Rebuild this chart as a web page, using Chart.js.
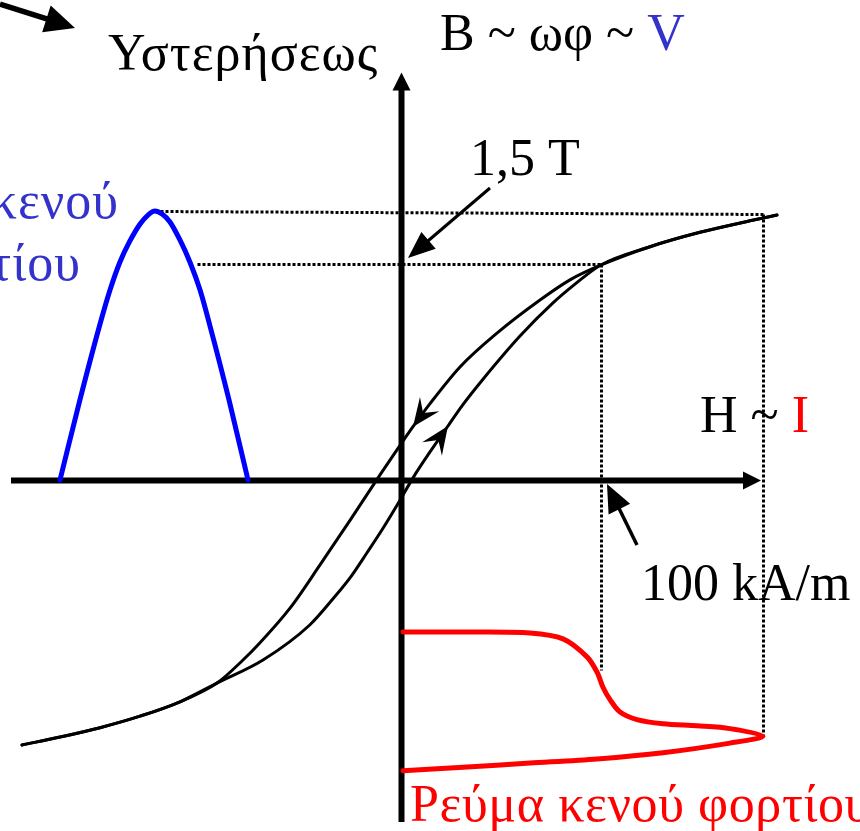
<!DOCTYPE html>
<html>
<head>
<meta charset="utf-8">
<script src="https://cdn.jsdelivr.net/npm/chart.js@4.4.0/dist/chart.umd.min.js"></script>
<style>
  html, body { margin: 0; padding: 0; background: #fff; }
  #wrap { width: 860px; height: 831px; }
</style>
</head>
<body>
<div id="wrap"><canvas id="myChart"></canvas></div>
<script>
const ctx = document.getElementById('myChart');

// hysteresis loop, H in kA/m, B in T
const downH = [188, 174.5, 149.5, 124.5, 99.5, 84.5, 69.5, 48, 29.5, 14.5, 6, -0.5, -10.5, -25.5, -40.5, -55.5, -70.5, -79, -92, -110.5, -130.5, -150.5, -170.5, -189.5];
const downB = [1.84, 1.80, 1.72, 1.62, 1.49, 1.39, 1.25, 1.02, 0.785, 0.53, 0.37, 0.24, 0.035, -0.28, -0.59, -0.89, -1.13, -1.25, -1.41, -1.54, -1.64, -1.72, -1.785, -1.84];
const upH = [-189.5, -170.5, -150.5, -130.5, -110.5, -92, -69, -45.5, -34, -25.5, -17, -9, -0.5, 6, 14.5, 23.5, 30.5, 41, 59.5, 76, 87, 99.5, 124.5, 149.5, 174.5, 188];
const upB = [-1.84, -1.785, -1.72, -1.64, -1.54, -1.41, -1.25, -1.005, -0.825, -0.68, -0.505, -0.335, -0.14, 0.015, 0.195, 0.375, 0.515, 0.70, 1.0, 1.23, 1.36, 1.49, 1.62, 1.72, 1.80, 1.84];
const downMark = 10, upMark = 15;

// no-load voltage (as B) over one half period, t in ms
const voltT = [0, 1.06, 2.13, 2.66, 3.19, 3.72, 4.26, 4.68, 5.05, 5.43, 5.85, 6.38, 6.91, 7.45, 7.98, 8.99, 10];
const voltB = [0, 0.556, 1.083, 1.319, 1.514, 1.66, 1.778, 1.84, 1.868, 1.847, 1.792, 1.667, 1.514, 1.319, 1.069, 0.556, 0];
const voltPeak = 8;

// no-load current (as H), time runs downwards, t in ms
const curH = [1, 35, 64.5, 81, 93, 98, 101, 104.5, 109.5, 118, 131, 148, 164.5, 181, 164.5, 131, 98, 64.5, 31, 1];
const curT = [0, 0, 0.07, 0.5, 1.8, 2.9, 4.0, 4.9, 5.8, 6.35, 6.65, 6.8, 7.0, 7.55, 8.05, 8.75, 9.2, 9.5, 9.8, 10.05];
const curTip = 13;

// dotted construction lines
const satH = 181, satB = 1.85;     // saturation point
const kneeH = 100, kneeB = 1.5;    // 100 kA/m, 1,5 T
const kneeVoltT = 7.3;             // where the 1,5 T line starts on the voltage wave
const kneeCurT = 2.75;             // where the 100 kA/m line meets the current

const pts = (xs, ys) => xs.map((v, i) => ({x: v, y: ys[i]}));

const serif = '"Liberation Serif", "Times New Roman", serif';
const FONT = '52px ' + serif;

function arrow(c, x0, y0, x1, y1, w, len, half) {
  const a = Math.atan2(y1 - y0, x1 - x0);
  const bx = x1 - len * Math.cos(a), by = y1 - len * Math.sin(a);
  c.lineWidth = w;
  c.beginPath();
  c.moveTo(x0, y0);
  c.lineTo(bx + 2 * Math.cos(a), by + 2 * Math.sin(a));
  c.stroke();
  c.beginPath();
  c.moveTo(x1, y1);
  c.lineTo(bx - half * Math.sin(a), by + half * Math.cos(a));
  c.lineTo(bx + half * Math.sin(a), by - half * Math.cos(a));
  c.closePath();
  c.fill();
}

// small notched head sitting on a curve
function stealth(c, x, y, a, len, half, notch) {
  const bx = x - len * Math.cos(a), by = y - len * Math.sin(a);
  const nx = x - notch * Math.cos(a), ny = y - notch * Math.sin(a);
  c.beginPath();
  c.moveTo(x, y);
  c.lineTo(bx - half * Math.sin(a), by + half * Math.cos(a));
  c.lineTo(nx, ny);
  c.lineTo(bx + half * Math.sin(a), by - half * Math.cos(a));
  c.closePath();
  c.fill();
}

function text(c, parts, x, y, align, spacing) {
  c.font = FONT;
  c.textBaseline = 'alphabetic';
  c.textAlign = 'left';
  c.letterSpacing = spacing || '0px';
  let w = 0;
  parts.forEach(p => { w += c.measureText(p[0]).width; });
  let cx = align === 'right' ? x - w : x;
  parts.forEach(p => {
    c.fillStyle = p[1];
    c.fillText(p[0], cx, y);
    cx += c.measureText(p[0]).width;
  });
  c.letterSpacing = '0px';
}

const drawing = {
  id: 'drawing',
  beforeDatasetsDraw(chart) {
    const c = chart.ctx;
    const s = chart.scales;
    const P = (sx, sy, vx, vy) => ({x: Math.round(s[sx].getPixelForValue(vx)) + 0.5, y: Math.round(s[sy].getPixelForValue(vy)) + 0.5});
    c.save();
    c.strokeStyle = '#000';
    c.fillStyle = '#000';
    c.lineCap = 'butt';

    // dotted guides
    c.setLineDash([3, 2]);
    c.lineWidth = 3;
    const peak = P('tV', 'y', voltT[voltPeak], voltB[voltPeak]);
    const sat = P('x', 'y', satH, satB);
    const tip = P('x', 'tI', curH[curTip], curT[curTip]);
    const knee = P('x', 'y', kneeH, kneeB);
    const kneeV = P('tV', 'y', kneeVoltT, kneeB);
    const kneeC = P('x', 'tI', kneeH, kneeCurT);
    c.beginPath();
    c.moveTo(peak.x, peak.y); c.lineTo(sat.x, sat.y);
    c.moveTo(sat.x, sat.y); c.lineTo(sat.x, tip.y);
    c.moveTo(kneeV.x, knee.y); c.lineTo(knee.x, knee.y);
    c.moveTo(knee.x, knee.y); c.lineTo(knee.x, kneeC.y);
    c.stroke();
    c.setLineDash([]);

    // H and B axes
    const o = P('x', 'y', 0, 0);
    const hL = s.x.getPixelForValue(-195), hR = s.x.getPixelForValue(180);
    const bB = s.y.getPixelForValue(-2.375), bT = s.y.getPixelForValue(2.83);
    arrow(c, hL, o.y, hR, o.y, 6, 18, 9);
    arrow(c, o.x, bB, o.x, bT, 6, 18, 9);
    c.restore();
  },
  afterDatasetsDraw(chart) {
    const c = chart.ctx;
    const s = chart.scales;
    c.save();
    c.strokeStyle = '#000';
    c.fillStyle = '#000';

    // direction heads on the loop
    [[0, downMark], [1, upMark]].forEach(([ds, i]) => {
      const m = chart.getDatasetMeta(ds).data;
      const a = Math.atan2(m[i].y - m[i - 1].y, m[i].x - m[i - 1].x);
      stealth(c, m[i].x, m[i].y, a, 28, 12, 17);
    });

    // pointers
    const o = {x: s.x.getPixelForValue(0), y: s.y.getPixelForValue(0)};
    const t15 = {x: o.x, y: s.y.getPixelForValue(kneeB)};
    const h100 = {x: s.x.getPixelForValue(kneeH), y: o.y};
    arrow(c, t15.x + 89, t15.y - 76, t15.x + 7, t15.y - 6, 3, 27, 11);
    arrow(c, h100.x + 36, h100.y + 65, h100.x + 6, h100.y + 4, 3.5, 28, 12);
    arrow(c, 0, 4, 75, 28, 5.5, 30, 14);

    // labels
    text(c, [['Υστερήσεως', '#000']], 108, 70, 'left', '1px');
    text(c, [['B ~ ωφ ~ ', '#000'], ['V', '#3333cc']], 440, 50);
    text(c, [['1,5 T', '#000']], 470, 175);
    text(c, [['κενού', '#3333cc']], 119, 218, 'right', '1px');
    text(c, [['φορτίου', '#3333cc']], 81, 280, 'right', '1px');
    text(c, [['H ~ ', '#000'], ['I', '#ff0000']], 700, 432);
    text(c, [['100 kA/m', '#000']], 641, 600);
    text(c, [['Ρεύμα κενού φορτίου', '#ff0000']], 410, 821, 'left', '0.6px');
    c.restore();
  }
};

const line = (data, color, width, xID, yID, mode, tension) => ({
  data: data,
  xAxisID: xID,
  yAxisID: yID,
  borderColor: color,
  borderWidth: width,
  borderCapStyle: 'round',
  pointRadius: 0,
  tension: tension || 0.4,
  cubicInterpolationMode: mode || 'default',
  fill: false
});

const cfg = {
  type: 'line',
  data: {
    datasets: [
      line(pts(downH, downB), '#000', 3, 'x', 'y', 'monotone'),
      line(pts(upH, upB), '#000', 3, 'x', 'y', 'monotone'),
      line(pts(voltT, voltB), '#0000ff', 5, 'tV', 'y', 'monotone'),
      line(pts(curH, curT), '#ff0000', 5, 'x', 'tI', 'default', 0.3)
    ]
  },
  options: {
    responsive: true,
    maintainAspectRatio: false,
    animation: false,
    layout: { padding: 0 },
    plugins: { legend: { display: false }, tooltip: { enabled: false } },
    scales: {
      x: { type: 'linear', display: false, min: -200.5, max: 229.5 },
      y: { type: 'linear', display: false, min: -2.4375, max: 3.3333 },
      tV: { type: 'linear', axis: 'x', display: false, min: -3.191, max: 42.553 },
      tI: { type: 'linear', axis: 'y', display: false, reverse: true, min: -45.797, max: 14.42 }
    }
  },
  plugins: [drawing]
};

let cht = new Chart(ctx, cfg);
</script>
</body>
</html>
